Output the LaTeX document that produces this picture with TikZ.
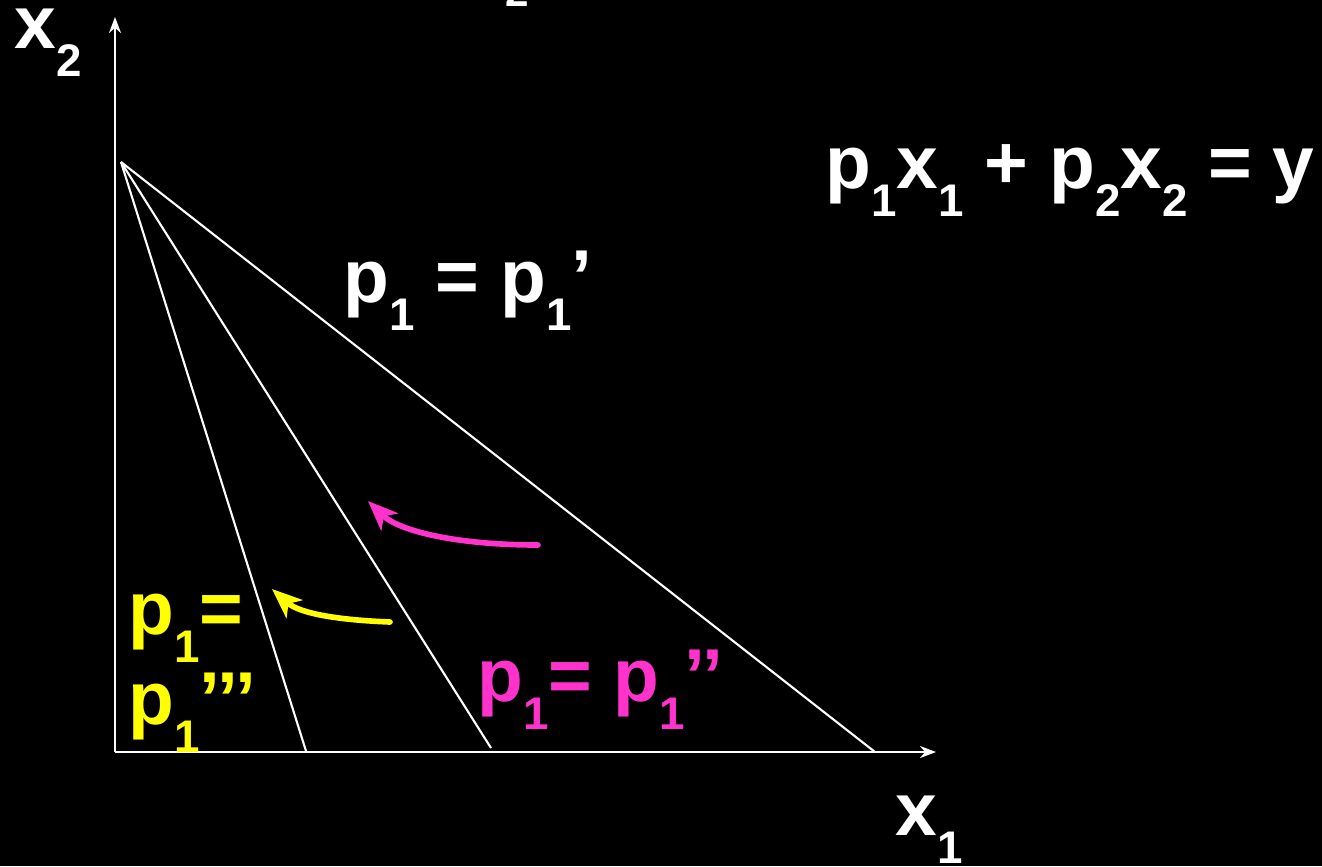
\documentclass[tikz,border=0pt]{standalone}
\usepackage{fontspec}
\setmainfont{Liberation Sans}
\usetikzlibrary{arrows.meta}
\definecolor{hotpink}{HTML}{FF33CC}
\definecolor{lemon}{HTML}{FFFF00}
\newcommand\subidx[1]{\raisebox{-8pt}{\fontsize{13}{13}\selectfont#1}}

\begin{document}
\begin{tikzpicture}[x=0.01cm,y=-0.01cm,
  axis/.style={draw=white,line width=0.6pt,-{Stealth[length=1.6mm,width=1.2mm]}},
  budget/.style={draw=white,line width=0.6pt},
  txt/.style={font=\bfseries\fontsize{21.3}{25}\selectfont,text=white,inner sep=0pt,anchor=base west},
  rotarrow/.style={line width=1.6pt,line cap=round,-{Stealth[length=3mm,width=2.4mm,inset=0.8mm]}}
]
\fill[black] (0,0) rectangle (1322,866);
\useasboundingbox (0,0) rectangle (1322,866);

% axes
\coordinate (O) at (115,752);
\coordinate (ytop) at (115,17);
\coordinate (xend) at (936,752);
\draw[axis] (O) -- (ytop);
\draw[axis] (O) -- (xend);

% budget lines, all through the same x2 intercept
\coordinate (A) at (121,162);
\coordinate (B1) at (875,752);
\coordinate (B2) at (491,748);
\coordinate (B3) at (306,751);
\draw[budget] (A) -- (B1);
\draw[budget] (A) -- (B2);
\draw[budget] (A) -- (B3);

% labels
\node[txt] (xtwo) at (14,48) {x\subidx{2}};
\node[txt] (xone) at (895,835) {x\subidx{1}};
\node[font=\bfseries\fontsize{12}{12}\selectfont,text=white,inner sep=0pt,anchor=south west] (topsub) at (505,7) {2};
\node[txt] (constraint) at (825,188) {p\subidx{1}x\subidx{1} + p\subidx{2}x\subidx{2} = y};
\node[txt] (pone) at (343,302) {p\subidx{1} = p\subidx{1}’};
\node[txt,text=hotpink] (ptwo) at (477,701) {p\subidx{1}= p\subidx{1}’’};
\node[txt,text=lemon] (pthreea) at (128,634) {p\subidx{1}=};
\node[txt,text=lemon] (pthreeb) at (128,724) {p\subidx{1}’’’};

% price rises pivot the line inwards
\draw[rotarrow,hotpink] (538,545) .. controls (460,545) and (400,532) .. (368,501);
\draw[rotarrow,lemon] (390,622) .. controls (340,620) and (300,614) .. (272,589);
\end{tikzpicture}
\end{document}
